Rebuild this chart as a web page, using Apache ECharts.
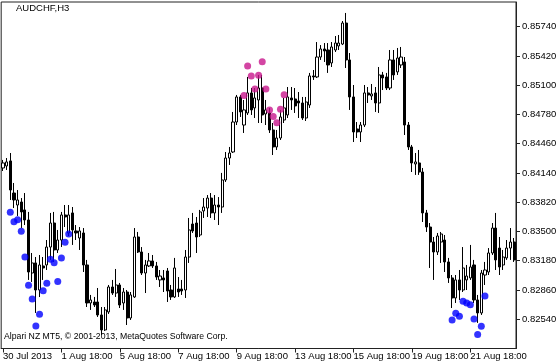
<!DOCTYPE html>
<html><head><meta charset="utf-8">
<script src="https://cdn.jsdelivr.net/npm/echarts@6/dist/echarts.min.js"></script>
<style>html,body{margin:0;padding:0;background:#fff}#c{width:560px;height:364px}</style>
</head><body><div id="c"></div>
<script>
const symbolTitle = 'AUDCHF,H3';
const copyright = 'Alpari NZ MT5, \u00A9 2001-2013, MetaQuotes Software Corp.';

// [open, close, low, high]
const candles = [
[0.84194,0.84249,0.84161,0.84282],[0.84216,0.84260,0.84172,0.84303],[0.84271,0.83953,0.83844,0.84358],[0.83920,0.83844,0.83756,0.84030],
[0.83789,0.83844,0.83669,0.83953],[0.83822,0.83713,0.83537,0.83865],[0.83735,0.83625,0.83570,0.83920],[0.83625,0.83056,0.82969,0.83713],
[0.83045,0.83155,0.82947,0.83264],[0.83155,0.82859,0.82608,0.83220],[0.82859,0.83133,0.82782,0.83242],[0.83122,0.83100,0.82969,0.83220],
[0.83133,0.83329,0.83078,0.83406],[0.83329,0.83592,0.83188,0.83702],[0.83592,0.83297,0.83166,0.83713],[0.83297,0.83406,0.83264,0.83516],
[0.83406,0.83680,0.83329,0.83713],[0.83680,0.83658,0.83548,0.83789],[0.83483,0.83680,0.83450,0.83789],[0.83702,0.83516,0.83352,0.83767],
[0.83505,0.83483,0.83406,0.83570],[0.83428,0.83505,0.83297,0.83548],[0.83483,0.83133,0.83056,0.83537],[0.83133,0.82717,0.82673,0.83188],
[0.82717,0.82750,0.82641,0.82805],[0.82728,0.82695,0.82673,0.82783],[0.82728,0.82586,0.82564,0.82881],[0.82586,0.82422,0.82367,0.82673],
[0.82422,0.82641,0.82411,0.82673],[0.82619,0.82892,0.82597,0.82914],[0.82892,0.82826,0.82805,0.82969],[0.82826,0.82914,0.82783,0.83089],
[0.82914,0.82695,0.82662,0.82936],[0.82717,0.82837,0.82641,0.82881],[0.82837,0.82553,0.82476,0.82859],[0.82553,0.82805,0.82531,0.82837],
[0.82783,0.83439,0.82772,0.83537],[0.83439,0.83275,0.83264,0.83494],[0.83275,0.83045,0.83023,0.83329],[0.83045,0.83133,0.82826,0.83188],
[0.83122,0.83177,0.83111,0.83264],[0.83177,0.83122,0.83100,0.83242],[0.83122,0.83001,0.82969,0.83166],[0.82969,0.83012,0.82892,0.83078],
[0.82991,0.82969,0.82837,0.83078],[0.83067,0.82848,0.82728,0.83100],[0.82859,0.82783,0.82750,0.82914],[0.82783,0.83100,0.82772,0.83210],
[0.82870,0.82837,0.82783,0.83001],[0.82870,0.82848,0.82805,0.82969],[0.82859,0.83220,0.82772,0.83297],[0.83220,0.83516,0.83155,0.83647],
[0.83581,0.83505,0.83483,0.83702],[0.83592,0.83439,0.83264,0.83658],[0.83461,0.83713,0.83439,0.83735],[0.83724,0.83767,0.83647,0.83865],
[0.83756,0.83865,0.83658,0.83898],[0.83865,0.83702,0.83647,0.83920],[0.83702,0.83789,0.83625,0.83898],[0.83789,0.83767,0.83570,0.83876],
[0.83767,0.84063,0.83702,0.84140],[0.84063,0.84303,0.84041,0.84369],[0.84303,0.84358,0.84227,0.84424],[0.84369,0.84697,0.84358,0.84807],
[0.84697,0.84971,0.84664,0.84993],[0.84971,0.84807,0.84752,0.84993],[0.84664,0.84829,0.84577,0.84938],[0.84796,0.85015,0.84774,0.85190],
[0.85015,0.84829,0.84774,0.85069],[0.84851,0.84960,0.84741,0.85069],[0.84938,0.85069,0.84686,0.85212],[0.85069,0.84774,0.84686,0.85212],
[0.84785,0.84829,0.84664,0.84938],[0.84796,0.84610,0.84577,0.84851],[0.84610,0.84424,0.84336,0.84686],[0.84424,0.84522,0.84391,0.84610],
[0.84522,0.84752,0.84500,0.84829],[0.84719,0.84851,0.84686,0.84960],[0.84774,0.84971,0.84741,0.85080],[0.84960,0.84938,0.84829,0.85080],
[0.84949,0.84873,0.84796,0.85069],[0.84927,0.84905,0.84741,0.85025],[0.84905,0.84741,0.84719,0.84971],[0.84741,0.84916,0.84708,0.84971],
[0.84883,0.85201,0.84851,0.85234],[0.85201,0.85190,0.85157,0.85266],[0.85190,0.85408,0.85179,0.85572],[0.85408,0.85496,0.85376,0.85539],
[0.85496,0.85474,0.85354,0.85561],[0.85485,0.85321,0.85234,0.85561],[0.85343,0.85518,0.85299,0.85572],[0.85485,0.85561,0.85463,0.85638],
[0.85529,0.85561,0.85485,0.85649],[0.85550,0.85780,0.85539,0.85802],[0.85780,0.85376,0.85288,0.85890],[0.85376,0.84971,0.84829,0.85452],
[0.84971,0.84588,0.84478,0.85102],[0.84621,0.84588,0.84522,0.84697],[0.84588,0.84664,0.84478,0.84697],[0.84664,0.85015,0.84642,0.85102],
[0.85015,0.84993,0.84905,0.85080],[0.84982,0.85004,0.84938,0.85113],[0.85015,0.84905,0.84807,0.85080],[0.84905,0.85212,0.84796,0.85299],
[0.85212,0.85179,0.85047,0.85245],[0.85190,0.85069,0.85047,0.85234],[0.85069,0.85376,0.85047,0.85485],[0.85376,0.85212,0.85157,0.85485],
[0.85245,0.85397,0.85212,0.85507],[0.85321,0.85408,0.85288,0.85518],[0.85354,0.84664,0.84555,0.85408],[0.84664,0.84424,0.84391,0.84697],
[0.84424,0.84249,0.84150,0.84446],[0.84238,0.84260,0.84118,0.84358],[0.84249,0.84150,0.84118,0.84391],[0.84150,0.83702,0.83603,0.84194],
[0.83702,0.83548,0.83494,0.83735],[0.83548,0.83384,0.83100,0.83592],[0.83384,0.83275,0.82969,0.83439],[0.83275,0.83450,0.83242,0.83483],
[0.83384,0.83472,0.83155,0.83494],[0.83406,0.83166,0.83056,0.83461],[0.83166,0.82991,0.82936,0.83210],[0.82991,0.82772,0.82662,0.83023],
[0.82772,0.82969,0.82717,0.83023],[0.82969,0.82859,0.82750,0.83078],[0.82859,0.83100,0.82837,0.83329],[0.82969,0.83012,0.82859,0.83133],
[0.82991,0.83111,0.82969,0.83352],[0.83133,0.82750,0.82717,0.83188],[0.82750,0.82608,0.82499,0.82805],[0.82608,0.83045,0.82586,0.83078],
[0.83023,0.83078,0.82914,0.83166],[0.83056,0.83264,0.83023,0.83318],[0.83264,0.83537,0.83242,0.83592],[0.83537,0.83188,0.83078,0.83702],
[0.83318,0.83111,0.83023,0.83439],[0.83133,0.83220,0.83078,0.83297],[0.83210,0.83318,0.83188,0.83406],[0.83318,0.83384,0.83188,0.83537],
[0.83384,0.83188,0.83166,0.83428]
];

// [bar index, price]
const blueDots = [
[2,0.83710],[3,0.83606],[4,0.83628],[5,0.83502],[6,0.83220],[7,0.82911],[8,0.82761],[9,0.82466],[10,0.82594],
[11,0.82851],[12,0.82933],[13,0.83195],[14,0.83158],[15,0.82951],[16,0.83210],[17,0.83381],[18,0.83472],
[123,0.82531],[124,0.82605],[125,0.82572],[126,0.82736],[127,0.82717],[128,0.82699],[129,0.82542],[130,0.82373],
[131,0.82463],[132,0.82793]
];
const magentaDots = [
[66,0.84988],[67,0.85310],[68,0.85201],[69,0.85058],[70,0.85208],[71,0.85357],[72,0.85058],[73,0.84829],
[74,0.84758],[75,0.84690],[76,0.84837],[77,0.84996]
];

const xTickIdx = [0,16,32,48,64,80,96,112,128];
const xTickLabels = ['30 Jul 2013','1 Aug 18:00','5 Aug 18:00','7 Aug 18:00','9 Aug 18:00','13 Aug 18:00','15 Aug 18:00','19 Aug 18:00','21 Aug 18:00'];
const yTicks = [0.82540,0.82860,0.83180,0.83500,0.83820,0.84140,0.84460,0.84780,0.85100,0.85420,0.85740];
const yMin = 0.82219, yMax = 0.86010;

const categories = candles.map((c, i) => String(i));
const FONT = 'Liberation Sans';

const chart = echarts.init(document.getElementById('c'), null, {renderer: 'canvas'});
chart.setOption({
  animation: false,
  backgroundColor: '#fff',
  textStyle: {fontFamily: FONT},
  grid: {left: 1, right: 44, top: 2, bottom: 15.5, show: true, borderColor: '#222', borderWidth: 1, backgroundColor: '#fff'},
  title: [
    {text: symbolTitle, left: 16, top: 3, padding: 0, textStyle: {fontFamily: FONT, fontSize: 9.5, fontWeight: 'normal', color: '#000'}},
    {text: copyright, left: 4, top: 332, padding: 0, textStyle: {fontFamily: FONT, fontSize: 8.7, fontWeight: 'normal', color: '#000'}}
  ],
  xAxis: {
    type: 'category',
    data: categories,
    boundaryGap: true,
    axisLine: {show: true, lineStyle: {color: '#222'}},
    axisTick: {show: true, alignWithLabel: true, length: 4, interval: (idx) => xTickIdx.includes(idx), lineStyle: {color: '#222'}},
    axisLabel: {
      show: true, interval: (idx) => xTickIdx.includes(idx), align: 'left', margin: 3,
      fontFamily: FONT, fontSize: 9.5, color: '#000',
      formatter: (v) => { const k = xTickIdx.indexOf(Number(v)); return k >= 0 ? xTickLabels[k] : ''; }
    },
    splitLine: {show: false}
  },
  yAxis: {
    type: 'value', position: 'right', min: yMin, max: yMax, scale: true,
    axisLine: {show: true, lineStyle: {color: '#222'}},
    axisTick: {show: true, length: 4, customValues: yTicks, lineStyle: {color: '#222'}},
    axisLabel: {show: true, customValues: yTicks, margin: 6, fontFamily: FONT, fontSize: 9.5, color: '#000', formatter: (v) => v.toFixed(5)},
    splitLine: {show: false}
  },
  series: [
    {
      type: 'candlestick', data: candles, barWidth: 2.6,
      itemStyle: {color: '#ffffff', color0: '#000000', borderColor: '#000000', borderColor0: '#000000', borderWidth: 1}
    },
    {type: 'scatter', data: blueDots, symbol: 'circle', symbolSize: 7, itemStyle: {color: '#0000ff'}, z: 5},
    {type: 'scatter', data: magentaDots, symbol: 'circle', symbolSize: 7, itemStyle: {color: '#c8168c'}, z: 5}
  ]
});
</script>
</body></html>
